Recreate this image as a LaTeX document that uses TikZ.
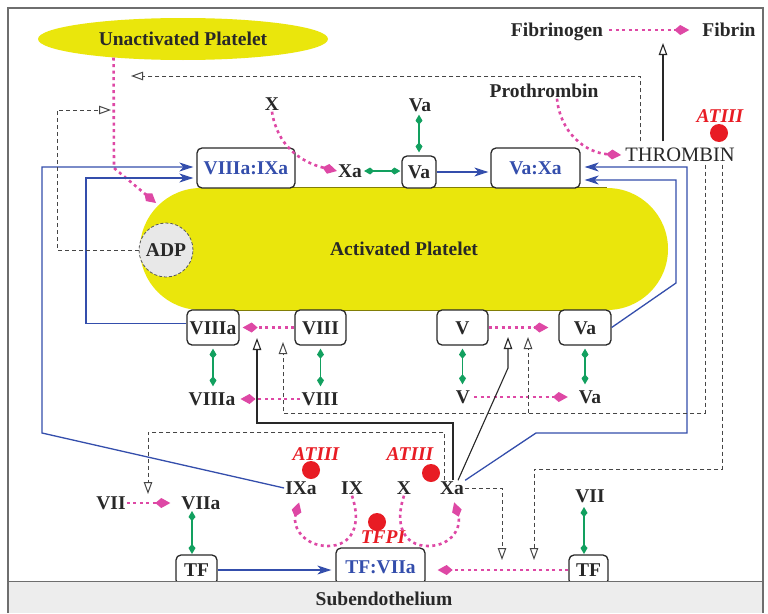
\documentclass[tikz,border=0pt]{standalone}
\usepackage{fontspec}
\setmainfont{Liberation Serif}
\usetikzlibrary{arrows.meta,shapes.geometric}
\definecolor{pk}{RGB}{222,72,165}
\definecolor{bl}{RGB}{52,78,172}
\definecolor{gr}{RGB}{18,160,95}
\definecolor{yl}{RGB}{234,230,12}
\definecolor{dk}{RGB}{40,40,40}
\definecolor{dl}{RGB}{70,70,70}
\definecolor{rd}{RGB}{232,28,36}
\definecolor{fr}{RGB}{110,110,110}
\newcommand{\lblfont}{\fontsize{19.5}{22}\selectfont\bfseries}
\begin{document}
\begin{tikzpicture}[x=1pt,y=-1pt,
  txt/.style={inner sep=1pt, text height=13pt, text depth=0pt, font=\lblfont, text=dk},
  box/.style={draw=dk, line width=1.3pt, rounded corners=5pt, fill=white, inner sep=0pt, text height=13pt, text depth=0pt, font=\lblfont, text=dk},
  pinkarr/.style={draw=pk, line width=2.6pt, dash pattern=on 3pt off 3.5pt, -{Kite[length=15pt,width=10pt,inset=6pt]}},
  greenarr/.style={draw=gr, line width=1.2pt, {Kite[length=10pt,width=7pt,inset=4pt]}-{Kite[length=10pt,width=7pt,inset=4pt]}},
  bluearr/.style={draw=bl, line width=1.3pt, -{Stealth[length=14pt,width=9pt,inset=4pt]}},
  openarr/.style={draw=dk, line width=1.1pt, -{Triangle[open,length=12pt,width=8.5pt]}},
  dasharr/.style={openarr, draw=dl, line width=1pt, dash pattern=on 4pt off 3pt},
  redball/.style={circle, fill=rd, minimum size=18pt, inner sep=0pt},
  redtxt/.style={inner sep=1pt, text height=13pt, text depth=0pt, font=\fontsize{19.5}{22}\selectfont\bfseries\itshape, text=rd}
]
\useasboundingbox (0,0) rectangle (768,613);
\fill[white] (0,0) rectangle (768,613);

% platelets
\node[ellipse, fill=yl, minimum width=290pt, minimum height=42pt, inner sep=0pt, font=\lblfont, text=dk] (unact) at (183,39) {Unactivated Platelet};
\node[fill=yl, rounded corners=61pt, minimum width=528pt, minimum height=122pt, inner sep=0pt, font=\lblfont, text=dk] (act) at (404,249) {Activated Platelet};
\draw[yl!55!black, line width=0.8pt] ([xshift=61pt]act.north west) -- ([xshift=-61pt]act.north east)
  ([xshift=61pt]act.south west) -- ([xshift=-61pt]act.south east);
\node[circle, fill=gray!18, draw=gray!70!black, dash pattern=on 3pt off 2pt, line width=0.8pt, minimum size=54pt, inner sep=0pt, font=\lblfont, text=dk] (adp) at (166,250) {ADP};

% boxes
\node[box, minimum width=98pt, minimum height=40pt, text=bl] (b89) at (246,168) {VIIIa:IXa};
\node[box, minimum width=34pt, minimum height=32pt] (bvat) at (419,172) {Va};
\node[box, minimum width=89pt, minimum height=40pt, text=bl] (bvaxa) at (535.5,168) {Va:Xa};
\node[box, minimum width=52pt, minimum height=35pt] (b8a) at (213,327.5) {VIIIa};
\node[box, minimum width=51pt, minimum height=35pt] (b8) at (320.5,327.5) {VIII};
\node[box, minimum width=51pt, minimum height=35pt] (bv) at (462.5,327.5) {V};
\node[box, minimum width=52pt, minimum height=35pt] (bva) at (585,327.5) {Va};
\node[box, minimum width=41pt, minimum height=30pt] (btf1) at (196.5,570) {TF};
\node[box, minimum width=89pt, minimum height=37pt, text=bl] (btfv) at (380.5,566.5) {TF:VIIa};
\node[box, minimum width=39pt, minimum height=30pt] (btf2) at (588.5,570) {TF};

% texts
\node[txt] (xt) at (272,104) {X};
\node[txt] (xa1) at (350,171) {Xa};
\node[txt] (vat) at (420,105) {Va};
\node[txt] (proth) at (544,91) {Prothrombin};
\node[txt] (fgen) at (557,30) {Fibrinogen};
\node[txt] (fib) at (729,30) {Fibrin};
\node[txt, font=\fontsize{20.5}{22}\selectfont] (thr) at (680,155) {THROMBIN};
\node[redtxt] (at0) at (720,116) {ATIII};
\node[redball] (ab0) at (719,133) {};
\node[txt] (t8a) at (212,399) {VIIIa};
\node[txt] (t8) at (320,399) {VIII};
\node[txt] (tv) at (463,397) {V};
\node[txt] (tva) at (590,397) {Va};
\node[txt] (vii1) at (111,503) {VII};
\node[txt] (viia) at (201,503) {VIIa};
\node[txt] (ixa) at (301,488) {IXa};
\node[txt] (ix) at (352,488) {IX};
\node[txt] (x2) at (404,488) {X};
\node[txt] (xa2) at (452,488) {Xa};
\node[redtxt] (at1) at (316,454) {ATIII};
\node[redball] (ab1) at (311,470) {};
\node[redtxt] (at2) at (410,454) {ATIII};
\node[redball] (ab2) at (431,473) {};
\node[redball] (ab3) at (377,522) {};
\node[redtxt] (tfpi) at (383,537) {TFPI};
\node[txt] (vii2) at (590,496) {VII};

% free ends
\coordinate (actin) at (156,203);
\coordinate (pbend) at (114,168);
\coordinate (fc) at (663,31);
\coordinate (upt) at (131,76);
\coordinate (a8) at (283,342);
\coordinate (av) at (528,337);
\coordinate (atfr) at (534,560);
\coordinate (a8s) at (257,338);
\coordinate (a5) at (508,337);
\coordinate (a7d) at (502,560);
\coordinate (a7) at (148,494);
\coordinate (aadp) at (111,110);
\coordinate (g1t) at (192,511);
\coordinate (g1b) at (192,554);
\coordinate (g2t) at (584,507);
\coordinate (g2b) at (584,554);

% pink conversions
\draw[pinkarr] (unact.195) -- (pbend) -- (actin);
\draw[pinkarr] (xt.south) .. controls (277,145) and (300,162) .. (xa1.west);
\draw[pinkarr] ([xshift=13pt]proth.south) .. controls (560,132) and (585,153) .. ([xshift=-3pt]thr.west);
\draw[pinkarr, shorten <=5pt, shorten >=12pt] (fgen.east) -- (fgen.east -| fib.west);
\draw[pinkarr, shorten >=3pt] (b8.west) -- (b8a.east);
\draw[pinkarr, shorten >=10pt] (bv.east) -- (bva.west);
\draw[pinkarr, shorten >=4pt] (t8.west) -- (t8.west -| t8a.east);
\draw[pinkarr, shorten <=3pt, shorten >=10pt] (tv.east) -- (tv.east -| tva.west);
\draw[pinkarr, shorten >=10pt] (vii1.east) -- (viia.west);
\draw[pinkarr, shorten >=12pt] (btf2.west) -- (btf2.west -| btfv.east);
\draw[pinkarr, shorten >=7pt] (ix.south) .. controls (362,525) and (352,546) .. (328,546) .. controls (304,546) and (292,527) .. (ixa.south);
\draw[pinkarr, shorten >=7pt] (x2.south) .. controls (394,525) and (404,546) .. (428,546) .. controls (452,546) and (462,527) .. (xa2.south);

% green equilibria
\draw[greenarr, shorten <=1pt, shorten >=1pt] (xa1.east) -- (bvat.west |- xa1.east);
\draw[greenarr, shorten <=2pt, shorten >=3pt] (vat.south -| bvat.north) -- (bvat.north);
\draw[greenarr, shorten <=3pt, shorten >=5pt] (b8a.south) -- (b8a.south |- t8a.north);
\draw[greenarr, shorten <=3pt, shorten >=5pt] (b8.south) -- (b8.south |- t8.north);
\draw[greenarr, shorten <=3pt, shorten >=5pt] (bv.south) -- (bv.south |- tv.north);
\draw[greenarr, shorten <=3pt, shorten >=5pt] (bva.south) -- (bva.south |- tva.north);
\draw[greenarr] (g1t) -- (g1b);
\draw[greenarr] (g2t) -- (g2b);

% blue
\draw[bluearr, shorten >=2pt] (bvat.east) -- (bvat.east -| bvaxa.west);
\draw[bluearr, shorten >=4pt] (bva.east) -- (676,283) -- (676,180) -- ([yshift=-12pt]bvaxa.east);
\draw[bluearr, shorten >=4pt] (xa2.north east) -- (536,433) -- (687,433) -- (687,167) -- ([yshift=1pt]bvaxa.east);
\draw[bluearr, shorten >=3pt] (ixa.west) -- (42,433) -- (42,167) -- ([yshift=1pt]b89.west);
\draw[bluearr, shorten >=3pt] ([yshift=4pt]b8a.west) -| (86,178) -- ([yshift=-10pt]b89.west);
\draw[bluearr, shorten >=4pt] (btf1.east) -- (btf1.east -| btfv.west);

% black solid
\draw[openarr] ([xshift=-17pt,yshift=6pt]thr.north) -- ([yshift=-12pt]fc);
\draw[openarr] ([xshift=1pt]xa2.north) -- (453,423) -- (257,423) -- (a8s);
\draw[openarr] ([xshift=6pt]xa2.north) -- (508,368) -- (a5);

% black dashed
\draw[dasharr] ([xshift=-40pt,yshift=6pt]thr.north) |- (upt);
\draw[dasharr] ([xshift=25pt,yshift=-2pt]thr.south) -- (705,413) -- (283,413) -- (a8);
\draw[dasharr] (528,413) -- (av);
\draw[dasharr] ([xshift=42pt,yshift=-2pt]thr.south) -- (722,469) -- (534,469) -- (atfr);
\draw[dasharr] (xa2.east) -| (a7d);
\draw[dasharr] ([xshift=-8pt]xa2.north) -- (444,432) -- (148,432) -- (a7);
\draw[dasharr] (adp.west) -- (57,250) -- (57,110) -- (aadp);

% subendothelium and frame
\fill[gray!14] (8,581) rectangle (763,613);
\draw[fr, line width=1pt] (8,581) -- (763,581);
\node[txt] (sub) at (384,599) {Subendothelium};
\draw[fr, line width=1.2pt] (8,613) -- (8,8) -- (763,8) -- (763,613);
\end{tikzpicture}
\end{document}
